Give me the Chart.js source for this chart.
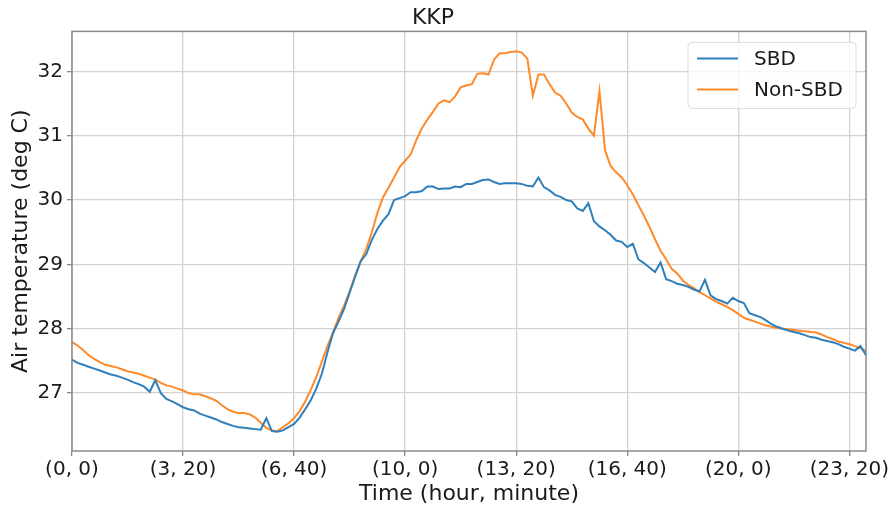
<!DOCTYPE html>
<html>
<head>
<meta charset="utf-8">
<title>KKP</title>
<script src="https://cdn.jsdelivr.net/npm/chart.js@4.4.1/dist/chart.umd.min.js"></script>
<style>
  html, body { margin: 0; padding: 0; background: #fff; }
  canvas { display: block; }
</style>
</head>
<body>
<canvas id="tempChart" width="892" height="510"></canvas>
<script>
// 10-minute slots over one day, labelled "(hour, minute)"
const times = Array.from({ length: 144 }, (_, i) => `(${Math.floor(i / 6)}, ${(i % 6) * 10})`);
const tickLabels = ['(0, 0)', '(3, 20)', '(6, 40)', '(10, 0)', '(13, 20)', '(16, 40)', '(20, 0)', '(23, 20)'];
const yTicks = [27, 28, 29, 30, 31, 32];

// air temperature, deg C
const sbd = [
  27.52, 27.47, 27.44, 27.41, 27.38, 27.35, 27.32, 27.29, 27.27, 27.24,
  27.21, 27.17, 27.14, 27.10, 27.02, 27.20, 27.00, 26.91, 26.87, 26.83,
  26.78, 26.75, 26.73, 26.68, 26.65, 26.62, 26.59, 26.55, 26.52, 26.49,
  26.47, 26.46, 26.45, 26.44, 26.43, 26.61, 26.41, 26.40, 26.42, 26.47,
  26.52, 26.62, 26.75, 26.89, 27.07, 27.30, 27.63, 27.93, 28.11, 28.31,
  28.56, 28.81, 29.05, 29.16, 29.38, 29.55, 29.68, 29.78, 30.00, 30.03,
  30.06, 30.12, 30.12, 30.14, 30.21, 30.21, 30.17, 30.18, 30.18, 30.21,
  30.20, 30.25, 30.25, 30.28, 30.31, 30.32, 30.28, 30.25, 30.26, 30.26,
  30.26, 30.25, 30.22, 30.21, 30.35, 30.20, 30.15, 30.08, 30.05, 30.00,
  29.98, 29.87, 29.83, 29.95, 29.67, 29.59, 29.53, 29.46, 29.37, 29.35,
  29.27, 29.32, 29.08, 29.02, 28.95, 28.88, 29.03, 28.77, 28.74, 28.70,
  28.68, 28.65, 28.61, 28.58, 28.76, 28.52, 28.46, 28.43, 28.39, 28.48,
  28.43, 28.40, 28.24, 28.21, 28.18, 28.13, 28.07, 28.03, 28.00, 27.97,
  27.95, 27.93, 27.90, 27.87, 27.86, 27.83, 27.81, 27.79, 27.76, 27.72,
  27.69, 27.66, 27.73, 27.59
];
const nonSbd = [
  27.79, 27.74, 27.67, 27.59, 27.53, 27.48, 27.44, 27.42, 27.40, 27.37,
  27.34, 27.32, 27.30, 27.27, 27.24, 27.21, 27.16, 27.12, 27.10, 27.07,
  27.04, 27.00, 26.98, 26.98, 26.95, 26.92, 26.88, 26.81, 26.75, 26.71,
  26.69, 26.69, 26.67, 26.62, 26.54, 26.46, 26.42, 26.41, 26.47, 26.53,
  26.61, 26.72, 26.87, 27.05, 27.25, 27.49, 27.73, 27.94, 28.17, 28.36,
  28.58, 28.83, 29.05, 29.24, 29.50, 29.80, 30.04, 30.19, 30.35, 30.51,
  30.61, 30.71, 30.93, 31.11, 31.25, 31.37, 31.50, 31.55, 31.52, 31.61,
  31.75, 31.78, 31.80, 31.96, 31.97, 31.95, 32.18, 32.28, 32.28, 32.30,
  32.31, 32.29, 32.20, 31.62, 31.95, 31.95, 31.80, 31.67, 31.62, 31.50,
  31.36, 31.29, 31.25, 31.11, 31.00, 31.69, 30.77, 30.53, 30.43, 30.35,
  30.23, 30.09, 29.92, 29.76, 29.58, 29.39, 29.21, 29.08, 28.93, 28.86,
  28.75, 28.68, 28.63, 28.57, 28.52, 28.47, 28.42, 28.38, 28.34, 28.29,
  28.23, 28.17, 28.14, 28.11, 28.08, 28.05, 28.03, 28.01, 28.00, 27.99,
  27.98, 27.97, 27.96, 27.95, 27.94, 27.91, 27.87, 27.84, 27.80, 27.78,
  27.76, 27.73, 27.70, 27.65
];

const FONT = 'DejaVu Sans';
const GRID = '#d3d3d3';

// white background + full frame around the plot area
const framePlugin = {
  id: 'frame',
  beforeDraw(chart) {
    const ctx = chart.ctx;
    ctx.save();
    ctx.fillStyle = '#fff';
    ctx.fillRect(0, 0, chart.width, chart.height);
    ctx.restore();
  },
  afterDatasetsDraw(chart) {
    const { ctx, chartArea: a } = chart;
    ctx.save();
    ctx.strokeStyle = '#8a8a8a';
    ctx.lineWidth = 1.5;
    ctx.strokeRect(a.left, a.top, a.right - a.left, a.bottom - a.top);
    ctx.restore();
  }
};

// boxed legend in the upper right corner of the plot
const boxLegend = {
  id: 'boxLegend',
  afterDraw(chart) {
    const { ctx, chartArea: a } = chart;
    const w = 168, h = 66;
    const x = a.right - 10 - w, y = a.top + 11;
    ctx.save();
    ctx.beginPath();
    ctx.roundRect(x, y, w, h, 4);
    ctx.fillStyle = 'rgba(255,255,255,0.8)';
    ctx.fill();
    ctx.strokeStyle = '#dcdcdc';
    ctx.lineWidth = 1;
    ctx.stroke();
    ctx.font = `20px "${FONT}"`;
    ctx.textBaseline = 'middle';
    chart.data.datasets.forEach((ds, i) => {
      const ly = y + 16 + i * 31;
      ctx.strokeStyle = ds.borderColor;
      ctx.lineWidth = 2;
      ctx.beginPath();
      ctx.moveTo(x + 9, ly);
      ctx.lineTo(x + 50, ly);
      ctx.stroke();
      ctx.fillStyle = '#1a1a1a';
      ctx.fillText(ds.label, x + 66, ly + 1);
    });
    ctx.restore();
  }
};

new Chart(document.getElementById('tempChart'), {
  type: 'line',
  data: {
    labels: times,
    datasets: [
      { label: 'SBD', data: sbd, borderColor: '#2f7fba', borderWidth: 2, pointRadius: 0, tension: 0 },
      { label: 'Non-SBD', data: nonSbd, borderColor: '#ff8a2a', borderWidth: 2, pointRadius: 0, tension: 0 }
    ]
  },
  options: {
    responsive: false,
    devicePixelRatio: 1,
    animation: false,
    layout: { padding: { left: 0, right: 26, top: 0, bottom: 0 } },
    plugins: {
      legend: { display: false },
      tooltip: { enabled: false },
      title: {
        display: true,
        text: 'KKP',
        color: '#1a1a1a',
        font: { family: FONT, size: 22, weight: 'normal', lineHeight: 1.2 },
        padding: { top: 5, bottom: 0 }
      }
    },
    scales: {
      x: {
        type: 'category',
        offset: false,
        afterBuildTicks: scale => {
          scale.ticks = scale.ticks.filter(t => tickLabels.includes(times[t.value]));
        },
        afterFit: scale => { scale.height = 59; },
        ticks: {
          autoSkip: false,
          maxRotation: 0,
          padding: 2,
          color: '#1a1a1a',
          font: { family: FONT, size: 20 }
        },
        grid: { color: GRID, lineWidth: 1.3, tickLength: 5, tickColor: '#8a8a8a' },
        border: { display: false },
        title: {
          display: true,
          text: 'Time (hour, minute)',
          color: '#1a1a1a',
          font: { family: FONT, size: 22, lineHeight: 1.2 },
          padding: { top: 0, bottom: 3 }
        }
      },
      y: {
        min: 26.10,
        max: 32.62,
        afterBuildTicks: scale => {
          scale.ticks = yTicks.map(v => ({ value: v }));
        },
        afterFit: scale => { scale.width = 72; },
        ticks: {
          padding: 4,
          color: '#1a1a1a',
          font: { family: FONT, size: 20 }
        },
        grid: { color: GRID, lineWidth: 1.3, tickLength: 5, tickColor: '#8a8a8a' },
        border: { display: false },
        title: {
          display: true,
          text: 'Air temperature (deg C)',
          color: '#1a1a1a',
          font: { family: FONT, size: 22, lineHeight: 1.2 },
          padding: { top: 8, bottom: 0 }
        }
      }
    }
  },
  plugins: [framePlugin, boxLegend]
});
</script>
</body>
</html>
